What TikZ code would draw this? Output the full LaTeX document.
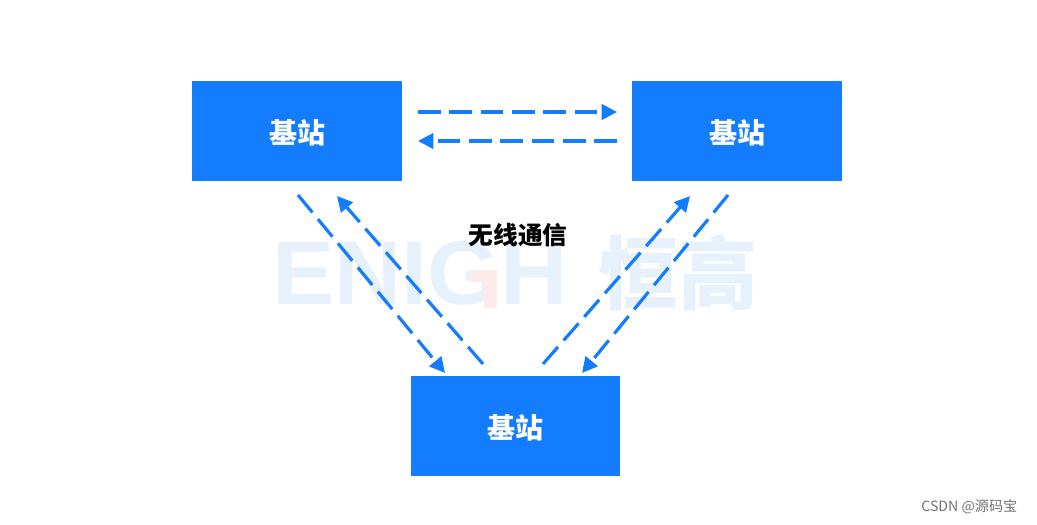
\documentclass[tikz,border=0pt]{standalone}
\usepackage{fontspec}
\setmainfont{Liberation Sans}
\newfontfamily\cjk{Noto Sans CJK SC}
\usetikzlibrary{arrows.meta,positioning}
\definecolor{stationblue}{RGB}{20,125,255}
\definecolor{markblue}{RGB}{230,241,252}
\definecolor{markred}{RGB}{253,235,236}

\begin{document}
\begin{tikzpicture}[x=.75pt,y=-.75pt,font=\cjk\bfseries,>={Triangle[length=11.5pt,width=11.5pt]},
box/.style={fill=stationblue,text=white,inner sep=0pt,outer sep=0pt,minimum width=157.5pt,minimum height=75pt,text height=22pt,text depth=3pt,font=\cjk\bfseries\fontsize{21}{25}\selectfont},
arr/.style={->,stationblue,line width=2.4pt,dash pattern=on 17pt off 6.5pt},
wmark/.style={text=markblue,inner sep=0pt}]
\useasboundingbox (0,0) rectangle (1037,524);
% watermark
\node[wmark,font=\bfseries\fontsize{68}{68}\selectfont,xscale=1.03] (enigh) at (420,273) {ENIGH};
\node[wmark,font=\cjk\bfseries\fontsize{60}{60}\selectfont] (henggao) at (678,273) {恒高};
\fill[markred] (470,270)--(497,270)--(497,308)--(484,308)--(484,282)--(470,282)--cycle;
% stations
\node[box] (left) at (297,131) {基站};
\node[box,right=172.5pt of left] (right) {基站};
\node[box,minimum width=156.75pt,below right=146.25pt and 6.75pt of left] (bottom) {基站};
\node[font=\cjk\bfseries\fontsize{18.5}{22}\selectfont] (wireless) at (518,235) {无线通信};
% links
\draw[arr] ([shift={(16,-19)}]left.east)--([shift={(-15,-19)}]right.west);
\draw[arr] ([shift={(-15,10)}]right.west)--([shift={(16,10)}]left.east);
\draw[arr] ([shift={(-104,14)}]left.south east)--([shift={(34,-3)}]bottom.north west);
\draw[arr] ([shift={(-32.5,-12)}]bottom.north)--([shift={(-65,15)}]left.south east);
\draw[arr] ([shift={(27.5,-12)}]bottom.north)--([shift={(58,15)}]right.south west);
\draw[arr] ([shift={(96,14)}]right.south west)--([shift={(-38,-3)}]bottom.north east);
\node[font=\cjk\fontsize{10.6}{13}\selectfont,text=black!55,anchor=east] (csdn) at (1022,507) {CSDN @源码宝};
\end{tikzpicture}
\end{document}
